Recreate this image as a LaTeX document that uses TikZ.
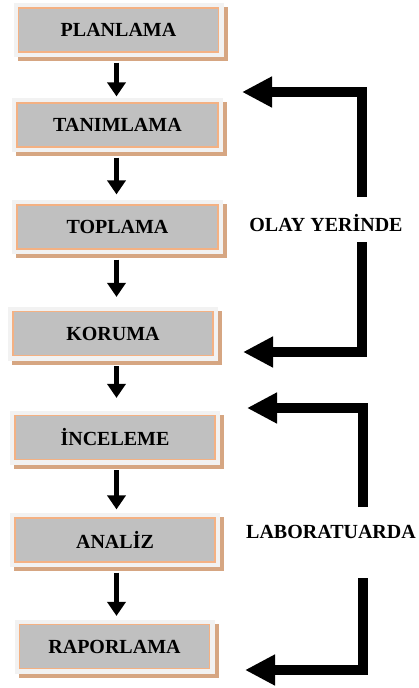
\documentclass[tikz,border=0pt]{standalone}
\usepackage{fontspec}
\setmainfont{Liberation Serif}
\usetikzlibrary{arrows.meta}
\definecolor{innerfill}{HTML}{C0C0C0}
\definecolor{innerdraw}{HTML}{F4B183}
\definecolor{outerfill}{HTML}{F2F2F2}
\definecolor{shadowc}{HTML}{D6A682}
\tikzset{
  stepbox/.style={draw=innerdraw, line width=1.2pt, fill=innerfill,
    minimum height=44pt, inner sep=0pt,
    font=\fontsize{20}{24}\selectfont\bfseries},
  downarrow/.style={line width=5pt, -{Triangle[width=18pt,length=14pt]}},
  bigarrow/.style={line width=9.5pt, line join=miter, -{Triangle[width=29pt,length=30pt]}},
  sidelabel/.style={font=\fontsize{20}{24}\selectfont\bfseries, inner sep=0pt}
}
\newcommand\procbox[5]{% name, x, y, width, text
  \fill[shadowc] ({#2-#4/2-5+4},{#3-27+4}) rectangle ++({#4+10},54);
  \fill[outerfill] ({#2-#4/2-5},{#3-27}) rectangle ++({#4+10},54);
  \node[stepbox, minimum width=#4pt] (#1) at (#2,#3) {#5};
}
\begin{document}
\begin{tikzpicture}[x=1pt,y=-1pt]
\useasboundingbox (0,0) rectangle (419,688);
\procbox{p}{118.5}{30}{200}{PLANLAMA}
\procbox{t}{117.5}{125}{201}{TANIMLAMA}
\procbox{tp}{117.5}{227}{201}{TOPLAMA}
\procbox{k}{113}{333.5}{200}{KORUMA}
\procbox{i}{115}{437.5}{200}{İNCELEME}
\procbox{a}{115}{540}{200}{ANALİZ}
\procbox{r}{114.5}{646.5}{190}{RAPORLAMA}
\coordinate (ax) at (116.5,0);
\draw[downarrow] ([yshift=-10pt]p.south -| ax) -- ([yshift=6pt]t.north -| ax);
\draw[downarrow] ([yshift=-10pt]t.south -| ax) -- ([yshift=10pt]tp.north -| ax);
\draw[downarrow] ([yshift=-10pt]tp.south -| ax) -- ([yshift=14pt]k.north -| ax);
\draw[downarrow] ([yshift=-10pt]k.south -| ax) -- ([yshift=17pt]i.north -| ax);
\draw[downarrow] ([yshift=-10pt]i.south -| ax) -- ([yshift=8pt]a.north -| ax);
\draw[downarrow] ([yshift=-10pt]a.south -| ax) -- ([yshift=8pt]r.north -| ax);
% side labels
\node[sidelabel] (oy) at (326,223) {OLAY YERİNDE};
\node[sidelabel] (lab) at (331,532) {LABORATUARDA};
% bracket arrows
\coordinate (s1) at (362,197);
\coordinate (e1) at (242,92);
\coordinate (s2) at (362,242);
\coordinate (e2) at (243,352);
\coordinate (s3) at (363,507);
\coordinate (e3) at (247,408);
\coordinate (s4) at (363,578);
\coordinate (e4) at (245,670);
\draw[bigarrow] (s1) |- (e1);
\draw[bigarrow] (s2) |- (e2);
\draw[bigarrow] (s3) |- (e3);
\draw[bigarrow] (s4) |- (e4);
\end{tikzpicture}
\end{document}
